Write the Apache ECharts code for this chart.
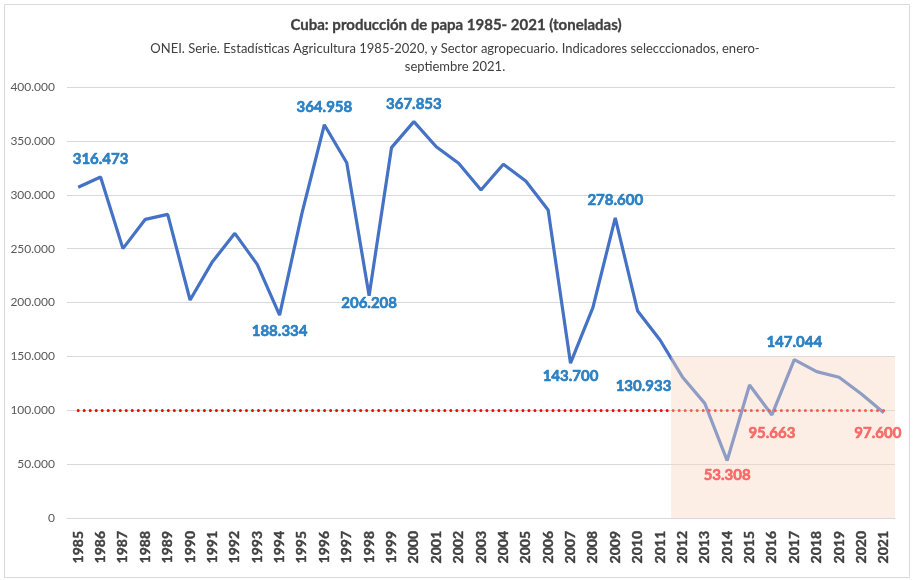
<!DOCTYPE html>
<html>
<head>
<meta charset="utf-8">
<script src="https://cdn.jsdelivr.net/npm/echarts@6/dist/echarts.min.js"></script>
<style>
html,body{margin:0;padding:0;background:#fff;}
#chart{width:915px;height:580px;}
</style>
</head>
<body>
<div id="chart"></div>
<script>
const years = ['1985','1986','1987','1988','1989','1990','1991','1992','1993','1994','1995','1996','1997','1998','1999','2000','2001','2002','2003','2004','2005','2006','2007','2008','2009','2010','2011','2012','2013','2014','2015','2016','2017','2018','2019','2020','2021'];
const production = [307000,316473,250000,277200,281800,202300,237900,264200,235400,188334,283000,364958,329700,206208,343700,367853,344600,329200,304400,328300,312800,285800,143700,195200,278600,192100,165200,130933,106400,53308,123400,95663,147044,135800,130600,115100,97600];
const yTicks = [0,50000,100000,150000,200000,250000,300000,350000,400000];
const referenceLevel = 100000;
const highlightedYears = ['1986','1994','1996','1998','2000','2007','2009','2012','2014','2016','2017','2021'];
const titleText = 'Cuba: producción de papa 1985- 2021 (toneladas)';
const subtitleText = 'ONEI. Serie. Estadísticas Agricultura 1985-2020, y Sector agropecuario. Indicadores selecccionados, enero-\nseptiembre 2021.';

function fmt(v){ return String(Math.round(v)).replace(/\B(?=(\d{3})+(?!\d))/g,'.'); }

const BLUE = '#0068B8', RED = '#F5504F';
const labelStyle = {
  '1986': {position:'top', distance:10, color:BLUE},
  '1994': {position:'bottom', distance:9, color:BLUE},
  '1996': {position:'top', distance:10, color:BLUE},
  '1998': {position:'bottom', distance:0, color:BLUE},
  '2000': {position:'top', distance:10, color:BLUE},
  '2007': {position:'bottom', distance:5, color:BLUE},
  '2009': {position:'top', distance:10, color:BLUE},
  '2012': {position:'left', distance:11, offset:[0,9], color:BLUE},
  '2014': {position:'bottom', distance:7, color:RED},
  '2016': {position:'bottom', distance:11, color:RED},
  '2017': {position:'top', distance:10, color:BLUE},
  '2021': {position:'bottom', distance:13, offset:[-6,0], color:RED}
};

const labelData = highlightedYears.map(y => {
  const i = years.indexOf(y);
  const s = labelStyle[y];
  return {
    value: [y, production[i]],
    label: Object.assign({show:true, formatter: fmt(production[i]), fontFamily:'Lato', fontWeight:'bold', fontSize:15,
      textBorderColor:s.color, textBorderWidth:0.6}, s)
  };
});

const FONT = 'Lato';
const chart = echarts.init(document.getElementById('chart'), null, {renderer:'canvas'});
chart.setOption({
  animation:false,
  backgroundColor:'#ffffff',
  title:[
    {text:titleText, left:451, textAlign:'center', top:13,
     textStyle:{fontFamily:FONT, fontSize:15, fontWeight:'bold', color:'#404040', textBorderColor:'#404040', textBorderWidth:0.3}},
    {text:subtitleText, left:450, textAlign:'center', top:35,
     textStyle:{fontFamily:FONT, fontSize:13, fontWeight:'normal', color:'#404040', lineHeight:18}}
  ],
  graphic:[{type:'rect', shape:{x:4.5,y:4.5,width:905,height:573}, style:{fill:'none', stroke:'#d9d9d9', lineWidth:1}, silent:true, z:-1}],
  grid:{left:67, right:20, top:87, bottom:62, containLabel:false},
  xAxis:[
    {type:'category', data:years, boundaryGap:true,
     axisLine:{show:true, lineStyle:{color:'#d9d9d9', width:1}},
     axisTick:{show:false},
     axisLabel:{rotate:90, interval:0, margin:13, fontFamily:FONT, fontSize:14, fontWeight:'bold', color:'#404040',
       textBorderColor:'#404040', textBorderWidth:0.4}},
    {type:'value', min:-0.5, max:36.5, show:false}
  ],
  yAxis:{type:'value', min:0, max:400000, interval:50000,
    axisLine:{show:false}, axisTick:{show:false},
    splitLine:{lineStyle:{color:'#d9d9d9', width:1}},
    axisLabel:{margin:12, fontFamily:FONT, fontSize:12, color:'#595959', formatter:v=>fmt(v)}},
  series:[
    {type:'line', name:'Producción', data:production, xAxisIndex:0, z:2,
     symbol:'none', lineStyle:{color:'#4472C4', width:3.2}, itemStyle:{color:'#4472C4'},
     markLine:{silent:true, symbol:'none', label:{show:false}, z:3,
       lineStyle:{color:'#FF0000', width:3, type:[0.01,6], cap:'round'},
       data:[[{coord:[years[0], referenceLevel]},{coord:[years[years.length-1], referenceLevel]}]]}},
    {type:'line', name:'overlay', data:[], xAxisIndex:1, z:6,
     markArea:{silent:true, z:6, itemStyle:{color:'rgba(247,215,192,0.42)'},
       data:[[{coord:[26.5, 150000]},{coord:[36.5, 0]}]]}},
    {type:'scatter', name:'labels', data:labelData, xAxisIndex:0, z:10,
     symbolSize:0, itemStyle:{color:'transparent'}}
  ]
});
</script>
</body>
</html>
